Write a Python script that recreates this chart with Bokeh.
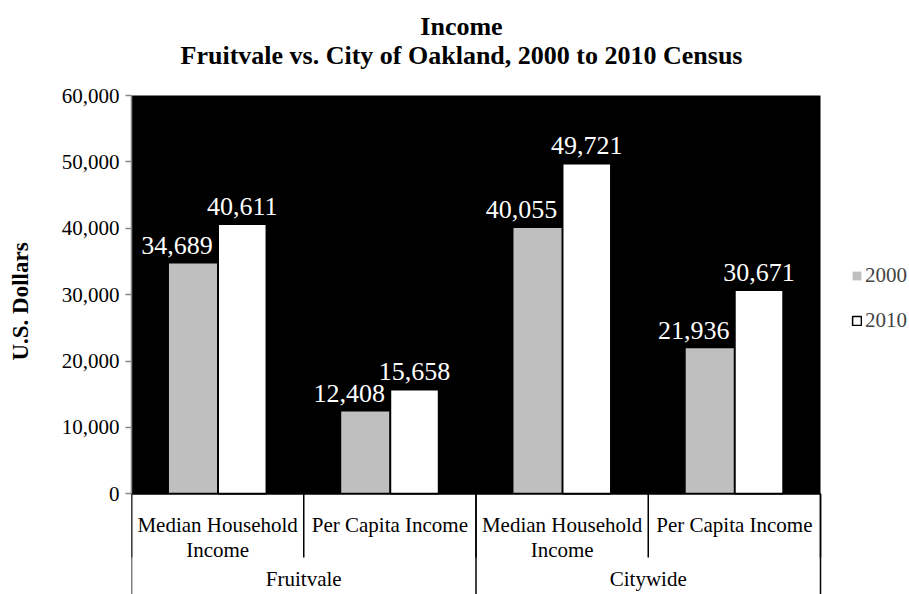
from bokeh.plotting import figure
from bokeh.models import (Range1d, FixedTicker, NumeralTickFormatter, Legend,
                          LegendItem, Label, ColumnDataSource)
from bokeh.core.properties import value
from bokeh.embed import file_html
from bokeh.resources import INLINE

# ---------------- data ----------------
title_lines = ["Income", "Fruitvale vs. City of Oakland, 2000 to 2010 Census"]
groups = ["Fruitvale", "Citywide"]
measures = ["Median Household\nIncome", "Per Capita Income"]
years = ["2000", "2010"]
values_2000 = [34689, 12408, 40055, 21936]
values_2010 = [40611, 15658, 49721, 30671]
y_ticks = [0, 10000, 20000, 30000, 40000, 50000, 60000]
y_label = "U.S. Dollars"

# ---------------- layout constants (canvas pixels) ----------------
FONT = "Liberation Serif"
W, H = 909, 594
FRAME_LEFT, FRAME_TOP = 131, 8
AREA_RIGHT = 820          # right edge of the black plot area
zero_px = 493.3
top_px = 95.0

categories = [(g, m) for g in groups for m in measures]
n = len(categories)
y_max = y_ticks[-1]
ppu = (zero_px - top_px) / y_max               # px per y unit
ppx = (AREA_RIGHT - FRAME_LEFT) / n             # px per category
x_end = (W - FRAME_LEFT) / ppx
y_min = -(H - zero_px) / ppu
y_top = y_max + (top_px - FRAME_TOP) / ppu

centers = [i + 0.5 for i in range(n)]
dx = 0.143
bw = 0.279

p = figure(width=W, height=H, output_backend="svg", toolbar_location=None,
           x_range=Range1d(0, x_end), y_range=Range1d(y_min, y_top),
           x_axis_type=None, title=None,
           min_border_left=FRAME_LEFT, min_border_right=0,
           min_border_top=FRAME_TOP, min_border_bottom=0)
p.outline_line_color = None
p.background_fill_color = "white"
p.ygrid.grid_line_color = None
p.xgrid.grid_line_color = None

# black plot area
p.quad(left=[0], right=[n], bottom=[0], top=[y_max], fill_color="black",
       line_color=None)

src = ColumnDataSource(dict(
    x0=[c - dx for c in centers], x1=[c + dx for c in centers],
    v0=values_2000, v1=values_2010,
    t0=[f"{v:,}" for v in values_2000], t1=[f"{v:,}" for v in values_2010],
))

r0 = p.vbar(x="x0", top="v0", bottom=0, width=bw, source=src,
            fill_color="#BFBFBF", line_color=None)
r1 = p.vbar(x="x1", top="v1", bottom=0, width=bw, source=src,
            fill_color="white", line_color="black", line_width=1.5)

lab_kw = dict(text_font=value(FONT), text_font_size="26px", text_color="white",
              text_align="center", text_baseline="alphabetic", y_offset=-18)
p.text(x="x0", y="v0", text="t0", source=src, x_offset=-16, **lab_kw)
p.text(x="x1", y="v1", text="t1", source=src, **lab_kw)

# category axis (two levels)
p.segment(x0=[0], x1=[n], y0=[0], y1=[0], line_color="black", line_width=2)
inner_len = -(557 - zero_px) / ppu
p.segment(x0=list(range(n + 1)), x1=list(range(n + 1)),
          y0=[0] * (n + 1), y1=[inner_len] * (n + 1),
          line_color="black", line_width=1.5)
gsz = len(measures)
outer_x = list(range(0, n + 1, gsz))
p.segment(x0=outer_x, x1=outer_x, y0=[0] * len(outer_x), y1=[y_min] * len(outer_x),
          line_color="black", line_width=1.5)

cat_kw = dict(text_font=value(FONT), text_font_size="21px", text_color="black",
              text_align="center", text_baseline="alphabetic")
max_lines = max(len(m.split("\n")) for m in measures)
for k in range(max_lines):
    xs, ts = [], []
    for i, (g, m) in enumerate(categories):
        lines = m.split("\n")
        if k < len(lines):
            xs.append(centers[i])
            ts.append(lines[k])
    p.text(x=xs, y=[0] * len(xs), text=ts, y_offset=31.5 + 25 * k, **cat_kw)

gx = [gsz * j + gsz / 2 for j in range(len(groups))]
p.text(x=gx, y=[0] * len(gx), text=groups, y_offset=85, **cat_kw)

# y axis
ax = p.yaxis[0]
ax.ticker = FixedTicker(ticks=y_ticks)
ax.formatter = NumeralTickFormatter(format="0,0")
ax.bounds = (0, y_max)
ax.axis_line_color = "#868686"
ax.axis_line_width = 1.5
ax.major_tick_line_color = "#868686"
ax.major_tick_line_width = 1.5
ax.major_tick_out = 6
ax.major_tick_in = 0
ax.minor_tick_out = 0
ax.minor_tick_in = 0
ax.major_label_standoff = 6
ax.major_label_text_font = FONT
ax.major_label_text_font_size = "21px"
ax.major_label_text_color = "black"
ax.axis_label = y_label
ax.axis_label_text_font = FONT
ax.axis_label_text_font_size = "23px"
ax.axis_label_text_font_style = "bold"
ax.axis_label_text_color = "black"
ax.axis_label_standoff = 26

# legend (inside the frame, to the right of the black area)
legend = Legend(items=[LegendItem(label=years[0], renderers=[r0]),
                       LegendItem(label=years[1], renderers=[r1])],
                location=(851 - FRAME_LEFT, H - 333), orientation="vertical")
legend.label_text_font = FONT
legend.label_text_font_size = "21px"
legend.glyph_width = 11
legend.glyph_height = 11
legend.label_standoff = 3
legend.spacing = 20
legend.padding = 0
legend.margin = 0
legend.border_line_color = None
legend.background_fill_alpha = 0
p.add_layout(legend)

# title (two centred lines)
title_center = 461 - FRAME_LEFT
for k, t in enumerate(title_lines):
    p.add_layout(Label(x=title_center, y=H - (26 + 29 * k),
                       x_units="screen", y_units="screen", text=t,
                       text_align="center", text_baseline="alphabetic",
                       text_font=FONT, text_font_size="26px",
                       text_font_style="bold", text_color="black"))

open("out.html", "w").write(file_html(p, INLINE))
